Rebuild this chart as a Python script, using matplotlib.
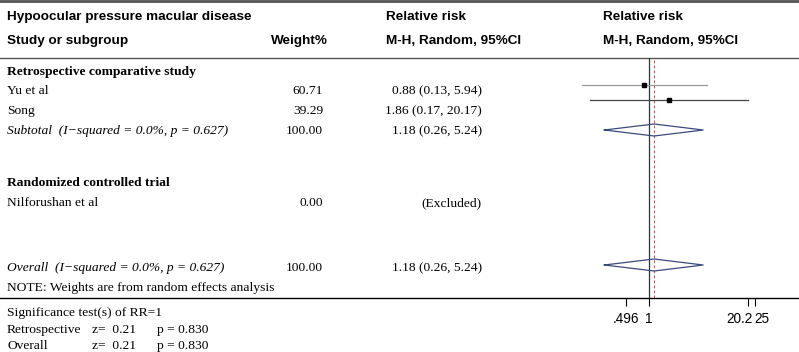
import matplotlib
matplotlib.use("Agg")
import matplotlib.pyplot as plt
from matplotlib.transforms import ScaledTranslation

# datos del forest plot
estudios = ["Yu et al", "Song"]
pesos = [60.71, 39.29]
rr = [0.88, 1.86]
rr_lo = [0.13, 0.17]
rr_hi = [5.94, 20.17]

subtotal = [1.18, 0.26, 5.24]
overall = [1.18, 0.26, 5.24]
heterog = "(I\u2212squared = 0.0%, p = 0.627)"

estudio_rct = "Nilforushan et al"
peso_rct = 0.00

ticks = [0.496, 1, 20.2, 25]
tick_labels = [".496", "1", "20.2", "25"]

W, H = 799, 352
fig = plt.figure(figsize=(W / 100, H / 100), dpi=100)

# eje principal en pixeles para el texto
ax = fig.add_axes([0, 0, 1, 1])
ax.set_xlim(0, W)
ax.set_ylim(H, 0)
ax.axis("off")

sans = dict(family="Liberation Sans", fontsize=9.7, fontweight="bold", va="center")
serif = dict(family="Liberation Serif", fontsize=9.7, va="center")
serif_b = dict(serif, fontweight="bold")
serif_i = dict(serif, style="italic")

# lineas horizontales
ax.plot([0, W], [1, 1], color="#555555", lw=2)
ax.plot([0, W], [58, 58], color="#555555", lw=1)
ax.plot([0, W], [298, 298], color="black", lw=1)

# encabezados
ax.text(7, 17, "Hypoocular pressure macular disease", **sans)
ax.text(7, 41, "Study or subgroup", **sans)
ax.text(328, 41, "Weight%", ha="right", **sans)
ax.text(386, 17, "Relative risk", **sans)
ax.text(386, 41, "M-H, Random, 95%CI", **sans)
ax.text(603, 17, "Relative risk", **sans)
ax.text(603, 41, "M-H, Random, 95%CI", **sans)

fmt = "{:.2f} ({:.2f}, {:.2f})"
x_peso = 323
x_rr = 482

ax.text(7, 72, "Retrospective comparative study", **serif_b)
filas_y = [91, 111]
for i in range(len(estudios)):
    ax.text(7, filas_y[i], estudios[i], **serif)
    ax.text(x_peso, filas_y[i], "%.2f" % pesos[i], ha="right", **serif)
    ax.text(x_rr, filas_y[i], fmt.format(rr[i], rr_lo[i], rr_hi[i]), ha="right", **serif)
ax.text(7, 131, "Subtotal  " + heterog, **serif_i)
ax.text(x_peso, 131, "%.2f" % sum(pesos), ha="right", **serif)
ax.text(x_rr, 131, fmt.format(*subtotal), ha="right", **serif)

ax.text(7, 183, "Randomized controlled trial", **serif_b)
ax.text(7, 203, estudio_rct, **serif)
ax.text(x_peso, 203, "%.2f" % peso_rct, ha="right", **serif)
ax.text(x_rr, 203, "(Excluded)", ha="right", **serif)

ax.text(7, 268, "Overall  " + heterog, **serif_i)
ax.text(x_peso, 268, "%.2f" % sum(pesos), ha="right", **serif)
ax.text(x_rr, 268, fmt.format(*overall), ha="right", **serif)
ax.text(7, 288, "NOTE: Weights are from random effects analysis", **serif)

ax.text(7, 313, "Significance test(s) of RR=1", **serif)
ax.text(7, 330, "Retrospective", **serif)
ax.text(92, 330, "z=  0.21", **serif)
ax.text(157, 330, "p = 0.830", **serif)
ax.text(7, 346, "Overall", **serif)
ax.text(92, 346, "z=  0.21", **serif)
ax.text(157, 346, "p = 0.830", **serif)

# eje del forest plot (escala log)
x0, x1 = 560, W
fx = fig.add_axes([x0 / W, 1 - 298 / H, (x1 - x0) / W, (298 - 58) / H])
fx.set_xscale("log")
fx.set_xlim(0.0675, 96.5)
fx.set_ylim(298, 58)
fx.patch.set_alpha(0)
for s in fx.spines.values():
    s.set_visible(False)
fx.set_yticks([])
fx.set_xticks(ticks)
fx.set_xticklabels(tick_labels)
fx.minorticks_off()
fx.tick_params(axis="x", direction="out", length=5.8, width=0.8, pad=4.5,
               labelsize=9.8, colors="black")
etiquetas = fx.get_xticklabels()
for t in etiquetas:
    t.set_family("Liberation Sans")
# las dos etiquetas de la derecha estan muy juntas
etiquetas[2].set_horizontalalignment("right")
etiquetas[2].set_transform(etiquetas[2].get_transform()
                           + ScaledTranslation(5 / 100, 0, fig.dpi_scale_trans))
etiquetas[3].set_horizontalalignment("left")

fx.plot([1, 1], [58, 298], color="#333333", lw=0.9)
fx.plot([overall[0], overall[0]], [60, 298], color="#cc5555", lw=0.8, ls=(0, (2.5, 2)))

y_marks = [85, 100]
colores = ["#999999", "#444444"]
for i in range(len(estudios)):
    fx.plot([rr_lo[i], rr_hi[i]], [y_marks[i], y_marks[i]], color=colores[i], lw=0.9)
    fx.plot(rr[i], y_marks[i], "s", color="black", ms=2.6)


def diamante(est, lo, hi, y, h=6):
    fx.plot([lo, est, hi, est, lo], [y, y - h, y, y + h, y], color="#3b4a7c", lw=0.9)


diamante(subtotal[0], subtotal[1], subtotal[2], 130)
diamante(overall[0], overall[1], overall[2], 265)

fig.savefig("out.png", dpi=100)
